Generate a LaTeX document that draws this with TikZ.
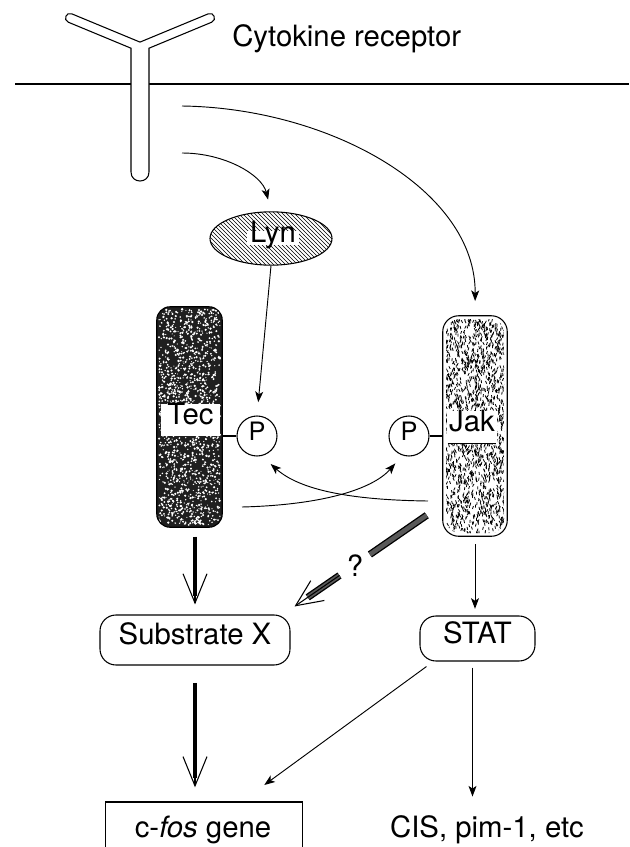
\documentclass[tikz,border=0pt]{standalone}
\usepackage{fontspec}
\setmainfont{TeX Gyre Heros}
\usetikzlibrary{arrows.meta,patterns,shapes.geometric,calc}
\begin{document}
\begin{tikzpicture}[x=0.75pt,y=-0.75pt,
  font=\fontsize{22}{26}\selectfont,
  thinarrow/.style={line width=0.7pt,-{Stealth[length=8pt,width=6pt,inset=2pt]}},
  barbhead/.style={line width=0.8pt,-{Straight Barb[length=22pt,width=18pt]}},
  lbl/.style={text height=0.72em,text depth=0pt,inner sep=0pt},
  outline/.style={line width=0.8pt},
  pcirc/.style={circle,draw,outline,minimum size=30pt,inner sep=0pt,text height=0.72em,text depth=0pt,font=\fontsize{19}{22}\selectfont},
  roundbox/.style={draw,outline,rounded corners=12pt,lbl},
]
\useasboundingbox (0,0) rectangle (629,847);

% membrane
\coordinate (mL) at (15,84);
\coordinate (mR) at (629,84);
\draw[line width=2pt] (mL) -- (mR);

% receptor
\draw[outline,fill=white]
  (131,172) -- (131,48.2) -- (68.3,22.2)
  .. controls (62.8,19.9) and (66.2,11.5) .. (71.7,13.8)
  -- (140,42.1) -- (208.3,13.8)
  .. controls (213.8,11.5) and (217.2,19.9) .. (211.7,22.2)
  -- (149,48.2) -- (149,172)
  .. controls (149,184) and (131,184) .. cycle;
\node[anchor=base west,inner sep=0pt] (title) at (232,46) {Cytokine receptor};
\coordinate (r1) at (182,106);
\coordinate (r2) at (182,153);

% Lyn
\node[ellipse,draw,outline,pattern=north west lines,minimum width=91.5pt,minimum height=40pt,inner sep=0pt] (lyn) at (271,238.5) {};
\node[fill=white,lbl,inner sep=2pt] (lyntext) at (273,238) {Lyn};

% Tec
\node[minimum width=48.75pt,minimum height=165pt,inner sep=0pt] (tec) at (189.5,417) {};
\begin{scope}
  \clip[rounded corners=10pt] (tec.south west) rectangle (tec.north east);
  \fill[black!88] (tec.south west) rectangle (tec.north east);
  \pgfmathsetseed{7}
  \foreach \i in {1,...,1500}{
    \pgfmathsetmacro{\xx}{159+61*rnd}
    \pgfmathsetmacro{\yy}{309+216*rnd}
    \pgfmathsetmacro{\rr}{0.4+0.55*rnd}
    \fill[white] (\xx,\yy) circle[radius=\rr pt];
  }
\end{scope}
\draw[outline,rounded corners=10pt] (tec.south west) rectangle (tec.north east);
\node[fill=white,lbl,minimum width=44pt,minimum height=24pt] (teclabel) at (190.5,420) {Tec};

% Jak
\node[minimum width=48pt,minimum height=165pt,inner sep=0pt] (jak) at (475,426) {};
\begin{scope}
  \clip[rounded corners=10pt] (446,319) rectangle (504,533);
  \pgfmathsetseed{11}
  \foreach \i in {1,...,1600}{
    \pgfmathsetmacro{\xx}{445+60*rnd}
    \pgfmathsetmacro{\yy}{318+216*rnd}
    \pgfmathsetmacro{\aa}{60+60*rnd}
    \draw[line width=0.6pt] (\xx,\yy) -- ++(\aa:3);
  }
\end{scope}
\draw[outline,rounded corners=12pt] (jak.south west) rectangle (jak.north east);
\node[fill=white,lbl,minimum width=37.5pt,minimum height=24pt] (jaklabel) at (472,427) {Jak};
\draw[outline] ($(jaklabel.south west)+(1,0)$) -- ($(jaklabel.south east)+(-1,0)$);

% P circles
\node[pcirc] (pL) at (257,436) {P};
\node[pcirc] (pR) at (409,436) {P};
\draw[outline] (pL.west) -- (pL.west -| tec.east);
\draw[outline] (pR.east) -- (pR.east -| jak.west);

% boxes
\node[roundbox,minimum width=142.5pt,minimum height=37.5pt] (sub) at (195,640) {Substrate X};
\node[roundbox,minimum width=86.25pt,minimum height=33.75pt] (stat) at (477.5,638.5) {STAT};
\node[minimum width=147pt,minimum height=45pt,inner sep=0pt,anchor=north] (cfos) at (204,802) {};
\draw[outline] (cfos.south west) -- (cfos.north west) -- (cfos.north east) -- (cfos.south east);
\node[anchor=base,inner sep=0pt] (cfostext) at (203,837) {c-\textit{fos} gene};
\node[anchor=base,inner sep=0pt] (cis) at (487,837) {CIS, pim-1, etc};

% arrows from receptor
\draw[thinarrow,shorten >=9pt] (r2) .. controls (225,153) and (262,175) .. (lyn.north);
\draw[thinarrow,shorten >=11pt] (r1) .. controls (330,108) and (476,190) .. (jak.north);
\draw[thinarrow,shorten >=10pt] (lyn.south) -- (pL.north);

% crossing arrows
\coordinate (cA) at (242,507);
\coordinate (cB) at (428,501);
\draw[thinarrow,shorten >=8pt] (cA) .. controls (320,505) and (372,490) .. (pR.251);
\draw[thinarrow,shorten >=9pt] (cB) .. controls (350,500) and (300,490) .. (pL.283);

% thick arrows
\draw[line width=2.4pt,shorten <=7pt,shorten >=14pt] (tec.south -| sub.north) -- (sub.north);
\draw[barbhead,shorten <=7pt,shorten >=7.5pt] (tec.south -| sub.north) -- (sub.north);
\draw[line width=2.4pt,shorten <=13pt,shorten >=18pt] (sub.south) -- (sub.south |- cfos.north);
\draw[barbhead,shorten <=13pt,shorten >=11pt] (sub.south) -- (sub.south |- cfos.north);

% gray questionable arrow
\coordinate (gS) at ($(jak.south west)+(-16,-21)$);
\coordinate (gT) at ($(sub.north east)+(4,-8)$);
\coordinate (gA) at ($(gS)!0.43!(gT)$);
\coordinate (gB) at ($(gS)!0.66!(gT)$);
\coordinate (gC) at ($(gS)!0.9!(gT)$);
\draw[line width=1pt,double=black!65,double distance=3.4pt] (gS) -- (gA);
\draw[line width=1pt,double=black!65,double distance=3.4pt] (gB) -- (gC);
\draw[line width=0.8pt,-{Straight Barb[length=20pt,width=18pt]}] (gB) -- (gT);
\node[inner sep=0pt] (q) at (355,566) {?};

% thin arrows below
\draw[thinarrow,shorten <=6pt,shorten >=5pt] (jak.south) -- (jak.south |- stat.north);
\coordinate (s1) at ($(stat.south west)+(7,5)$);
\coordinate (s2) at ($(cfos.north east)+(-38,-17)$);
\draw[thinarrow] (s1) -- (s2);
\coordinate (s3) at ($(stat.south)+(-5,6)$);
\coordinate (s4) at ($(stat.south)+(-5,135)$);
\draw[thinarrow] (s3) -- (s4);
\end{tikzpicture}
\end{document}
